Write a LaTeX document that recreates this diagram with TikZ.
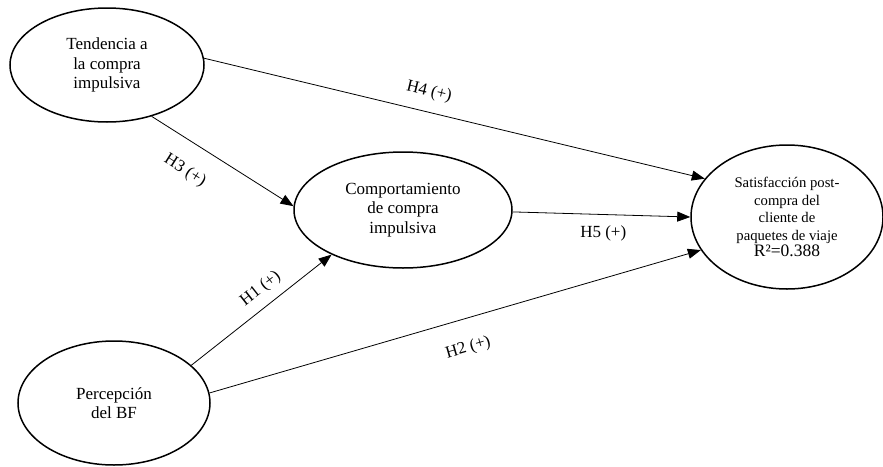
\documentclass[tikz,border=0pt]{standalone}
\usepackage{fontspec}
\setmainfont{Liberation Serif}
\usetikzlibrary{shapes.geometric,arrows.meta}
\begin{document}
\begin{tikzpicture}[x=1pt,y=-1pt,
  construct/.style={draw=black,line width=1.5pt,ellipse,inner sep=0pt,align=center,
    font=\rmfamily\fontsize{17}{19.5}\selectfont},
  path/.style={draw=black,line width=0.8pt,-{Triangle[length=13pt,width=10pt]}},
  hlabel/.style={font=\rmfamily\fontsize{17}{19}\selectfont,inner sep=2pt}]
\useasboundingbox (0,0) rectangle (883,466);
\node[construct,minimum width=194pt,minimum height=114pt] (tend) at (107,65)
  {Tendencia a\\la compra\\impulsiva};
\node[construct,minimum width=218pt,minimum height=116pt] (comp) at (403,210)
  {Comportamiento\\de compra\\impulsiva};
\node[construct,minimum width=192pt,minimum height=144pt,
  font=\rmfamily\fontsize{14.7}{17.5}\selectfont] (sat) at (787,217)
  {Satisfacción post-\\compra del\\cliente de\\paquetes de viaje\\[-1pt]{\fontsize{17.5}{19}\selectfont R²=0.388}};
\node[construct,minimum width=192pt,minimum height=124pt] (perc) at (114,403)
  {Percepción\\del BF};
\draw[path] (tend.4) -- node[hlabel,sloped,above=10pt,pos=0.44]{H4 (+)} (sat.155.3);
\draw[path] (tend.-49) -- node[hlabel,sloped,below=18pt,pos=0.34]{H3 (+)} (comp.178.4);
\draw[path] (perc.26.9) -- node[hlabel,sloped,above=7pt,pos=0.57]{H1 (+)} (comp.212.1);
\draw[path] (comp.-1.6) -- node[hlabel,below=9pt,pos=0.51]{H5 (+)} (sat.180);
\draw[path] (perc.6.3) -- node[hlabel,sloped,below=19pt,pos=0.51]{H2 (+)} (sat.201.9);
\end{tikzpicture}
\end{document}
